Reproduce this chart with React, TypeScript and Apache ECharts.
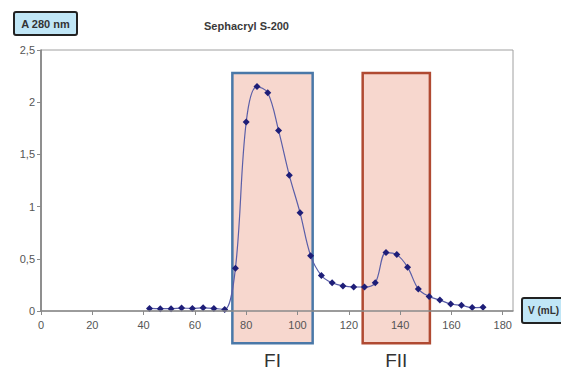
import React, { useEffect, useRef } from "react";
import * as echarts from "echarts";

const volumes = [42.3, 46.5, 50.7, 54.8, 59.0, 63.2, 67.4, 71.6, 75.8, 80.0, 84.2, 88.4, 92.6, 96.8, 101.0, 105.1, 109.3, 113.5, 117.7, 121.9, 126.1, 130.3, 134.5, 138.7, 142.9, 147.1, 151.3, 155.5, 159.7, 163.9, 168.1, 172.3];
const absorbance = [0.025, 0.022, 0.022, 0.028, 0.025, 0.03, 0.025, 0.015, 0.41, 1.81, 2.15, 2.09, 1.73, 1.3, 0.94, 0.53, 0.34, 0.27, 0.24, 0.23, 0.23, 0.27, 0.56, 0.54, 0.42, 0.21, 0.14, 0.105, 0.067, 0.055, 0.033, 0.035];

const fractionNames = ["FI", "FII"];
const fractionStart = [74.6, 125.4];
const fractionEnd = [105.9, 151.6];
const fractionBottom = -0.31;
const fractionTop = 2.28;
const fractionBorders = ["#4a78a8", "#b04a32"];

const FONT = "'Liberation Sans Narrow', 'Liberation Sans', Arial, sans-serif";

export default function App() {
  const ref = useRef<HTMLDivElement>(null);
  useEffect(() => {
    if (!ref.current) return;
    const chart = echarts.init(ref.current, null, { renderer: "svg" });
    chart.setOption({
      animation: false,
      backgroundColor: "#ffffff",
      title: {
        text: "Sephacryl S-200",
        left: 199,
        top: 15,
        textStyle: { fontSize: 11, fontWeight: "bold", color: "#3a3a3a", fontFamily: FONT },
      },
      grid: {
        left: 41,
        top: 50,
        right: 48,
        bottom: 59,
        show: true,
        borderColor: "#a0a0a0",
        borderWidth: 1,
      },
      xAxis: {
        type: "value",
        min: 0,
        max: 184,
        interval: 20,
        z: 4,
        axisLine: { show: true, onZero: false, lineStyle: { color: "#8a8a8a", width: 1.5 } },
        axisTick: { show: true, length: 4, lineStyle: { color: "#8a8a8a" } },
        splitLine: { show: false },
        axisLabel: {
          showMaxLabel: false,
          margin: 8,
          color: "#555",
          fontSize: 11,
          fontFamily: FONT,
        },
      },
      yAxis: {
        type: "value",
        min: 0,
        max: 2.5,
        interval: 0.5,
        z: 4,
        axisLine: { show: true, lineStyle: { color: "#7a7a7a", width: 1.5 } },
        axisTick: { show: true, length: 4, lineStyle: { color: "#8a8a8a" } },
        splitLine: { show: false },
        axisLabel: {
          margin: 6,
          color: "#555",
          fontSize: 11,
          fontFamily: FONT,
          formatter: (v: number) => String(v).replace(".", ","),
        },
      },
      graphic: [
        {
          type: "group",
          left: 13,
          top: 11,
          children: [
            {
              type: "rect",
              shape: { x: 0, y: 0, width: 63, height: 23, r: 2 },
              style: { fill: "#c0e6f6", stroke: "#222", lineWidth: 2 },
            },
            {
              type: "text",
              style: {
                text: "A 280 nm",
                x: 31.5,
                y: 11.5,
                align: "center",
                verticalAlign: "middle",
                fontSize: 11,
                fontWeight: "bold",
                fill: "#333",
                fontFamily: FONT,
              },
            },
          ],
        },
        {
          type: "group",
          left: 521,
          top: 297,
          children: [
            {
              type: "rect",
              shape: { x: 0, y: 0, width: 48, height: 25, r: 2 },
              style: { fill: "#c0e6f6", stroke: "#222", lineWidth: 2 },
            },
            {
              type: "text",
              style: {
                text: "V (mL)",
                x: 6,
                y: 12.5,
                align: "left",
                verticalAlign: "middle",
                fontSize: 10,
                fontWeight: "bold",
                fill: "#333",
                fontFamily: FONT,
              },
            },
          ],
        },
      ],
      series: [
        {
          type: "custom",
          z: 1,
          clip: false,
          data: fractionNames.map((n, i) => [fractionStart[i], fractionEnd[i], fractionBottom, fractionTop]),
          renderItem: (params: any, api: any) => {
            const i = params.dataIndex;
            const p0 = api.coord([api.value(0), api.value(3)]);
            const p1 = api.coord([api.value(1), api.value(2)]);
            return {
              type: "group",
              children: [
                {
                  type: "rect",
                  shape: { x: p0[0], y: p0[1], width: p1[0] - p0[0], height: p1[1] - p0[1] },
                  style: { fill: "#f7d7ce", stroke: fractionBorders[i], lineWidth: 2.5 },
                },
                {
                  type: "text",
                  style: {
                    text: fractionNames[i],
                    x: (p0[0] + p1[0]) / 2,
                    y: p1[1] + 17,
                    align: "center",
                    verticalAlign: "middle",
                    fontSize: 19,
                    fill: "#333",
                    fontFamily: "'Liberation Sans', Arial, sans-serif",
                  },
                },
              ],
            };
          },
        },
        {
          type: "line",
          z: 3,
          smooth: 0.35,
          data: volumes.map((v, i) => [v, absorbance[i]]),
          symbol: "diamond",
          symbolSize: 7,
          showAllSymbol: true,
          lineStyle: { color: "#5a5ea8", width: 1.2 },
          itemStyle: { color: "#1e1e78" },
        },
      ],
    });
    return () => chart.dispose();
  }, []);
  return <div ref={ref} style={{ position: "fixed", left: 0, top: 0, width: 561, height: 370 }} />;
}
